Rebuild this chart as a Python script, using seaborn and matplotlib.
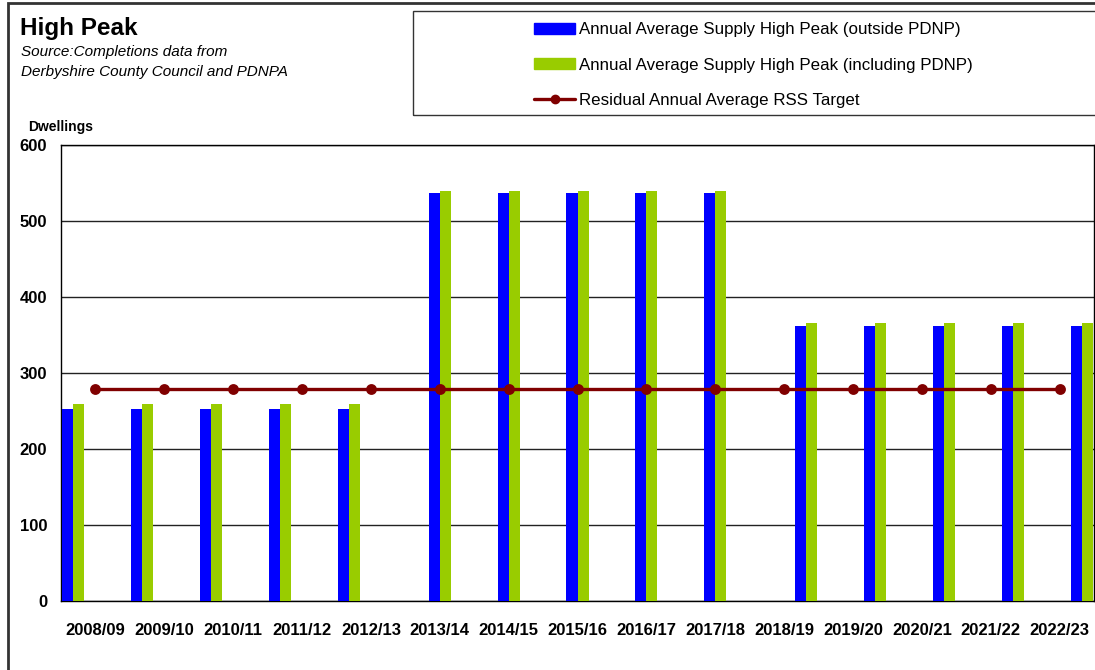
import matplotlib
matplotlib.use('Agg')
import matplotlib.pyplot as plt
import matplotlib.patches as mpatches
from matplotlib.lines import Line2D
import seaborn as sns
import pandas as pd

years = ["2008/09", "2009/10", "2010/11", "2011/12", "2012/13",
         "2013/14", "2014/15", "2015/16", "2016/17", "2017/18",
         "2018/19", "2019/20", "2020/21", "2021/22", "2022/23"]
# each five-year period is its own pair of series in the source workbook
period = ["A", "A", "A", "A", "A",
          "B", "B", "B", "B", "B",
          "C", "C", "C", "C", "C"]
outside_pdnp = [253, 253, 253, 253, 253,
                537, 537, 537, 537, 537,
                362, 362, 362, 362, 362]
including_pdnp = [259, 259, 259, 259, 259,
                  540, 540, 540, 540, 540,
                  366, 366, 366, 366, 366]
rss_target = [279, 279, 279, 279, 279, 279, 279, 279,
              279, 279, 279, 279, 279, 279, 279]

lbl_out = "Annual Average Supply High Peak (outside PDNP)"
lbl_inc = "Annual Average Supply High Peak (including PDNP)"
lbl_tgt = "Residual Annual Average RSS Target"

BLUE = "#0000FF"
GREEN = "#99CC00"
RED = "#800000"

rows = []
for y, p, o, i in zip(years, period, outside_pdnp, including_pdnp):
    rows.append({"year": y, "series": f"out_{p}", "value": o})
    rows.append({"year": y, "series": f"inc_{p}", "value": i})
df = pd.DataFrame(rows)
hue_order = ["out_A", "inc_A", "out_B", "inc_B", "out_C", "inc_C"]
palette = {h: (BLUE if h.startswith("out") else GREEN) for h in hue_order}

sns.set_style("white")
plt.rcParams['font.family'] = ['Liberation Sans', 'DejaVu Sans']
plt.rcParams['text.color'] = 'black'
plt.rcParams['xtick.color'] = 'black'
plt.rcParams['ytick.color'] = 'black'

fig = plt.figure(figsize=(10.95, 6.7), dpi=100)
ax = fig.add_axes([61 / 1095, 69 / 670, 1033 / 1095, 456 / 670])

sns.barplot(data=df, x="year", y="value", hue="series", hue_order=hue_order,
            order=years, palette=palette, saturation=1, width=0.96, dodge=True,
            errorbar=None, linewidth=0, legend=False, ax=ax, zorder=3)
sns.pointplot(x=years, y=rss_target, order=years, color=RED, markers="o",
              markersize=6, linewidth=2.4, ax=ax, zorder=4)

ax.set_ylim(0, 600)
ax.set_xlim(-0.5, 14.5)
ax.set_yticks(range(0, 601, 100))
ax.yaxis.grid(True, color="#222222", linewidth=1)
ax.set_axisbelow(True)
ax.set_xlabel("")
ax.set_ylabel("")
for s in ax.spines.values():
    s.set_visible(True)
    s.set_color("black")
    s.set_linewidth(1)

ax.set_xticks(range(len(years)))
ax.set_xticklabels(years, fontsize=12, fontweight="bold")
ax.set_xticks([i - 0.5 for i in range(len(years) + 1)], minor=True)
ax.tick_params(axis="x", which="major", length=0, pad=16, labelcolor="black")
ax.tick_params(axis="x", which="minor", length=5, width=1, color="#333333", direction="out")
ax.tick_params(axis="y", length=4, width=1, color="#333333", direction="out", pad=6,
               labelsize=12, labelcolor="black")
for t in ax.get_yticklabels():
    t.set_fontweight("bold")

# titles
fig.text(20 / 1095, 1 - 28 / 670, "High Peak", fontsize=17.5, fontweight="bold",
         va="center", ha="left")
fig.text(21 / 1095, 1 - 52 / 670, "Source:Completions data from", fontsize=11,
         style="italic", va="center", ha="left")
fig.text(21 / 1095, 1 - 72 / 670, "Derbyshire County Council and PDNPA", fontsize=11,
         style="italic", va="center", ha="left")
fig.text(28 / 1095, 1 - 127 / 670, "Dwellings", fontsize=10, fontweight="bold",
         va="center", ha="left")

# outer chart border and legend box (both run off the right/bottom edge)
fig.patches.append(mpatches.Rectangle((8 / 1095, -0.1), 1.2, 0.1 + 667 / 670,
                                      transform=fig.transFigure, fill=False,
                                      edgecolor="#333333", linewidth=2))
fig.patches.append(mpatches.Rectangle((413 / 1095, 1 - 115 / 670), 1.0, 104 / 670,
                                      transform=fig.transFigure, fill=False,
                                      edgecolor="#333333", linewidth=1))

handles = [mpatches.Patch(color=BLUE, label=lbl_out),
           mpatches.Patch(color=GREEN, label=lbl_inc),
           Line2D([0], [0], color=RED, lw=2.4, marker="o", markersize=6, label=lbl_tgt)]
fig.legend(handles=handles, loc="upper left", bbox_to_anchor=(526 / 1095, 1 - 14 / 670),
           frameon=False, fontsize=12.2, handlelength=2.4, handleheight=0.6,
           handletextpad=0.2, labelspacing=1.2, borderpad=0)

fig.savefig("out.png", dpi=100)
